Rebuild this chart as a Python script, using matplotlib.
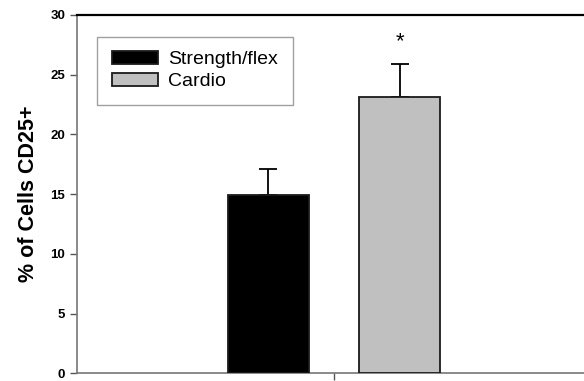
import matplotlib
matplotlib.use("Agg")
import matplotlib.pyplot as plt

# group means and SEM (% of cells CD25+)
groups = ["Strength/flex", "Cardio"]
means = [14.9, 23.1]
sem = [2.2, 2.8]
colors = ["#000000", "#c0c0c0"]
positions = [-0.5, 0.5]

plt.rcParams["font.family"] = ["Liberation Sans", "DejaVu Sans"]

fig = plt.figure(figsize=(5.84, 3.81), dpi=100)
ax = fig.add_axes([0.132, 0.02, 0.88, 0.941])

for x, m, e, c, g in zip(positions, means, sem, colors, groups):
    ax.bar(x, m, width=0.616, color=c, edgecolor="#1a1a1a", linewidth=1.3, label=g, zorder=3)
    ax.errorbar(x, m, yerr=[[0], [e]], fmt="none", ecolor="black", elinewidth=1.3,
                capsize=6.5, capthick=1.3, zorder=2)

# significance marker above cardio bar
ax.text(positions[1], means[1] + sem[1] + 1.0, "*", ha="center", va="bottom", fontsize=16)

ax.set_xlim(-1.954, 1.954)
ax.set_ylim(0, 30)
ax.set_yticks([0, 5, 10, 15, 20, 25, 30])
ax.set_xticks([0])
ax.set_xticklabels([""])
ax.tick_params(axis="both", direction="out", length=5, width=1, color="#555555")
for lab in ax.get_yticklabels():
    lab.set_fontweight("bold")
    lab.set_fontsize(9.5)

ax.set_ylabel("% of Cells CD25+", fontsize=15.5, fontweight="bold", labelpad=8)

ax.spines["right"].set_visible(False)
ax.spines["top"].set_color("black")
ax.spines["top"].set_linewidth(1.6)
ax.spines["left"].set_color("#777777")
ax.spines["bottom"].set_color("#777777")
ax.spines["left"].set_linewidth(1.2)
ax.spines["bottom"].set_linewidth(1.2)

leg = ax.legend(loc="upper left", bbox_to_anchor=(0.039, 0.939), fontsize=14,
                frameon=True, fancybox=False, handlelength=2.37, handleheight=0.6,
                borderpad=0.75, labelspacing=0.26, handletextpad=0.55, borderaxespad=0)
leg.get_frame().set_edgecolor("#888888")
leg.get_frame().set_linewidth(1.0)

fig.savefig("out.png", dpi=100)
